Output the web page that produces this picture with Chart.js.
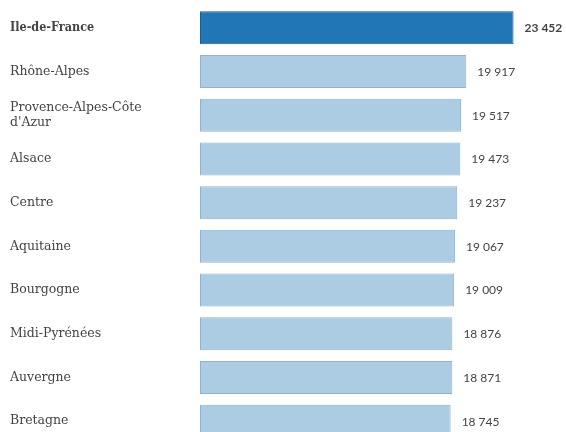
<!DOCTYPE html>
<html>
<head>
<meta charset="utf-8">
<script src="https://cdn.jsdelivr.net/npm/chart.js@4/dist/chart.umd.min.js"></script>
<style>
html,body{margin:0;padding:0;background:#fff;overflow:hidden;width:566px;height:432px;}
#wrap{position:relative;width:566px;height:444px;}
</style>
</head>
<body>
<div id="wrap"><canvas id="c" width="566" height="444"></canvas></div>
<script>
const regions = ["Ile-de-France", "Rhône-Alpes", ["Provence-Alpes-Côte", "d'Azur"], "Alsace", "Centre", "Aquitaine", "Bourgogne", "Midi-Pyrénées", "Auvergne", "Bretagne"];
const values = [23452, 19917, 19517, 19473, 19237, 19067, 19009, 18876, 18871, 18745];
const valueLabels = ["23 452", "19 917", "19 517", "19 473", "19 237", "19 067", "19 009", "18 876", "18 871", "18 745"];

const fills = values.map((v, i) => i === 0 ? '#2176b5' : '#abcce3');
const borders = values.map((v, i) => i === 0 ? '#1a5d91' : '#8fb2ce');

const valuePlugin = {
  id: 'valueLabels',
  afterDatasetsDraw(chart) {
    const ctx = chart.ctx;
    const meta = chart.getDatasetMeta(0);
    ctx.save();
    ctx.textBaseline = 'middle';
    ctx.textAlign = 'left';
    meta.data.forEach((bar, i) => {
      ctx.font = (i === 0 ? 'bold ' : '') + '12px Lato';
      ctx.fillStyle = '#444';
      ctx.fillText(valueLabels[i], bar.x + 11, bar.y + 0.5);
    });
    ctx.restore();
  }
};

new Chart(document.getElementById('c'), {
  type: 'bar',
  data: {
    labels: regions,
    datasets: [{
      data: values,
      backgroundColor: fills,
      borderColor: borders,
      borderWidth: 1,
      borderSkipped: false,
      barPercentage: 0.755,
      categoryPercentage: 1.0
    }]
  },
  options: {
    indexAxis: 'y',
    responsive: false,
    animation: false,
    layout: { padding: { left: 10, right: 5, top: 6, bottom: 1 } },
    plugins: { legend: { display: false }, tooltip: { enabled: false } },
    scales: {
      x: { display: false, min: 0, max: 27000 },
      y: {
        grid: { display: false },
        border: { display: false },
        ticks: {
          crossAlign: 'far',
          color: '#444',
          padding: 0,
          font: (c) => (c.index === 0
            ? { family: '"DejaVu Serif Condensed", "DejaVu Serif"', size: 12.5, lineHeight: 1.25, weight: 'bold' }
            : { family: 'DejaVu Serif', size: 12.5, lineHeight: 1.2, weight: 'normal' })
        },
        afterFit(scale) { scale.width = 190; scale.paddingTop = 0; scale.paddingBottom = 0; }
      }
    }
  },
  plugins: [valuePlugin]
});
</script>
</body>
</html>
